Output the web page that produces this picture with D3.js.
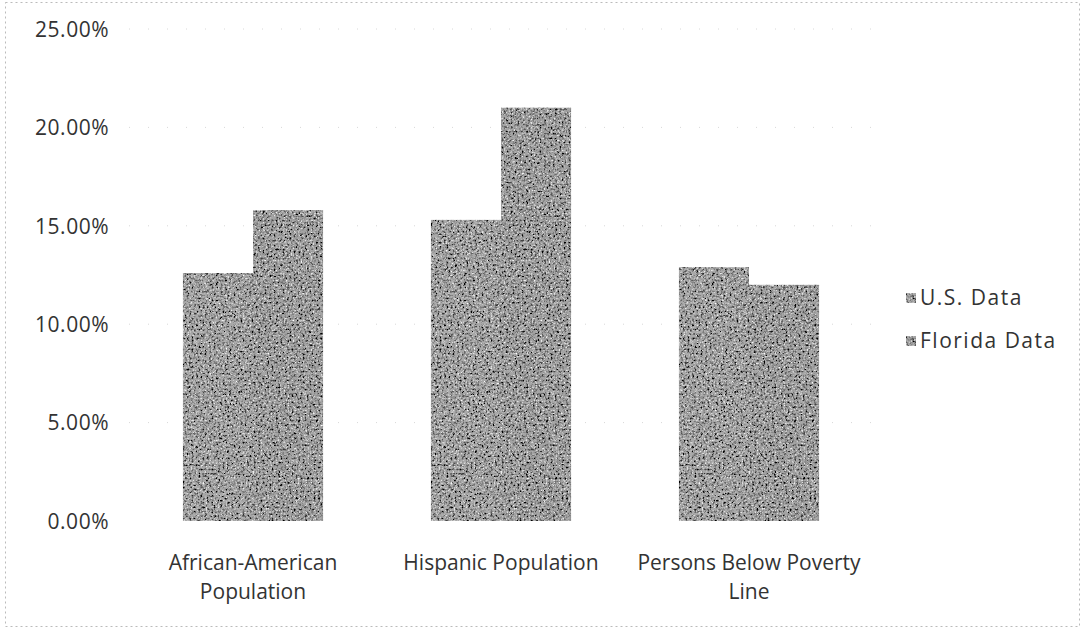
<!DOCTYPE html>
<html>
<head>
<meta charset="utf-8">
<script src="https://cdn.jsdelivr.net/npm/d3@7"></script>
<style>
  html, body { margin: 0; padding: 0; background: #fff; }
  svg { display: block; }
  text { font-family: "Open Sans", "DejaVu Sans", sans-serif; fill: #333; }
</style>
</head>
<body>
<svg id="chart" width="1084" height="636"></svg>
<script>
const categories = [["African-American", "Population"], ["Hispanic Population"], ["Persons Below Poverty", "Line"]];
const seriesNames = ["U.S. Data", "Florida Data"];
const usData = [12.6, 15.3, 12.9];
const floridaData = [15.8, 21.0, 12.0];
const yTicks = [0, 5, 10, 15, 20, 25];

const svg = d3.select("#chart");

// grainy texture filter (mimics the scanned bar fill)
const defs = svg.append("defs");
const f = defs.append("filter").attr("id", "grain").attr("x", 0).attr("y", 0).attr("width", 1).attr("height", 1);
f.append("feTurbulence").attr("type", "fractalNoise").attr("baseFrequency", 0.45).attr("numOctaves", 3).attr("seed", 7).attr("result", "noise");
f.append("feColorMatrix").attr("in", "noise").attr("type", "matrix")
  .attr("values", "0 0 0 0 0  0 0 0 0 0  0 0 0 0 0  0 0 0 -3.2 1.75").attr("result", "dark");
f.append("feComposite").attr("in", "dark").attr("in2", "SourceGraphic").attr("operator", "in").attr("result", "darkIn");
f.append("feTurbulence").attr("type", "fractalNoise").attr("baseFrequency", 0.6).attr("numOctaves", 2).attr("seed", 21).attr("result", "noise2");
f.append("feColorMatrix").attr("in", "noise2").attr("type", "matrix")
  .attr("values", "0 0 0 0 1  0 0 0 0 1  0 0 0 0 1  0 0 0 3.2 -1.75").attr("result", "light");
f.append("feComposite").attr("in", "light").attr("in2", "SourceGraphic").attr("operator", "in").attr("result", "lightIn");
f.append("feMerge").call(m => {
  m.append("feMergeNode").attr("in", "SourceGraphic");
  m.append("feMergeNode").attr("in", "lightIn");
  m.append("feMergeNode").attr("in", "darkIn");
});

// outer dotted border
svg.append("rect").attr("x", 5.5).attr("y", 2.5).attr("width", 1074).attr("height", 624)
  .attr("fill", "none").attr("stroke", "#bbb").attr("stroke-width", 1).attr("stroke-dasharray", "2,3");

const x0 = d3.scaleBand().domain(d3.range(categories.length)).range([129, 873]).paddingInner(0.435).paddingOuter(0.2175);
const x1 = d3.scaleBand().domain(seriesNames).range([0, x0.bandwidth()]);
const y = d3.scaleLinear().domain([0, 25]).range([521, 29]);

// gridlines (faint in the scan)
svg.append("g").selectAll("line").data(yTicks.filter(d => d > 0)).join("line")
  .attr("x1", 129).attr("x2", 873).attr("y1", d => y(d)).attr("y2", d => y(d))
  .attr("stroke", "#d8d8d8").attr("stroke-width", 1).attr("stroke-dasharray", "1,18");

// y axis labels
const yAxis = d3.axisLeft(y).tickValues(yTicks).tickSize(0).tickPadding(0).tickFormat(d => d3.format(".2f")(d) + "%");
const gy = svg.append("g").attr("transform", "translate(109,0)").call(yAxis);
gy.select(".domain").remove();
gy.selectAll("text").style("font-size", "21px").style("font-family", "'Open Sans', sans-serif")
  .attr("fill", "#333").attr("dy", "0.35em").style("letter-spacing", "0.5px");

// bars
const groups = svg.append("g").selectAll("g").data(categories.map((c, i) => i)).join("g")
  .attr("transform", i => `translate(${x0(i)},0)`);
groups.selectAll("rect").data(i => [{s: seriesNames[0], v: usData[i]}, {s: seriesNames[1], v: floridaData[i]}]).join("rect")
  .attr("x", d => x1(d.s)).attr("width", x1.bandwidth())
  .attr("y", d => y(d.v)).attr("height", d => y(0) - y(d.v))
  .attr("fill", d => d.s === seriesNames[0] ? "#a9a9a9" : "#a4a4a4")
  .attr("filter", "url(#grain)");

// category labels
const cl = svg.append("g").selectAll("text").data(categories.map((c, i) => ({c, i}))).join("text")
  .attr("x", d => x0(d.i) + x0.bandwidth() / 2).attr("y", 570)
  .attr("text-anchor", "middle").style("font-size", "21px");
cl.selectAll("tspan").data(d => d.c.map(t => ({t, x: x0(d.i) + x0.bandwidth() / 2}))).join("tspan")
  .attr("x", d => d.x).attr("dy", (d, j) => j === 0 ? 0 : 29).text(d => d.t);

// legend
const lg = svg.append("g").selectAll("g").data(seriesNames).join("g")
  .attr("transform", (d, i) => `translate(906,${298 + i * 43})`);
lg.append("rect").attr("x", 0).attr("y", -5).attr("width", 10).attr("height", 10)
  .attr("fill", (d, i) => i === 0 ? "#a9a9a9" : "#a4a4a4").attr("filter", "url(#grain)");
lg.append("text").attr("x", 14).attr("y", 0).attr("dy", "0.35em").style("font-size", "21px")
  .style("letter-spacing", "1.5px").text(d => d);
</script>
</body>
</html>
